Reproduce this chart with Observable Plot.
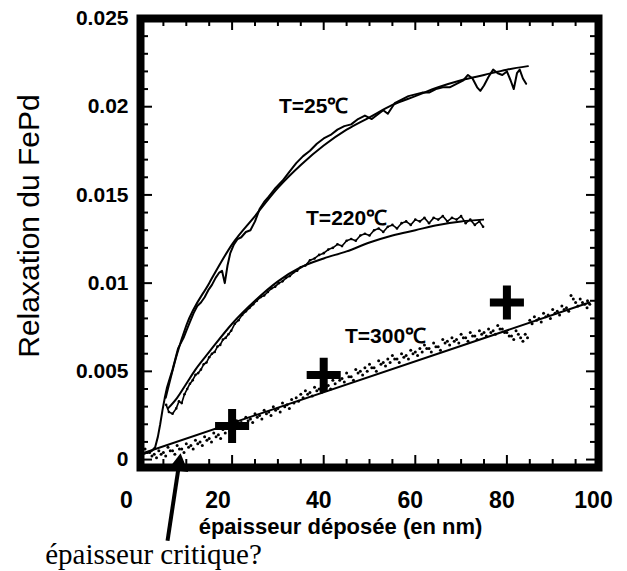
<!DOCTYPE html>
<html>
<head>
<meta charset="utf-8">
<script src="https://cdn.jsdelivr.net/npm/d3@7"></script>
<script src="https://cdn.jsdelivr.net/npm/@observablehq/plot@0.6"></script>
<style>
  html, body { margin: 0; padding: 0; background: #fff; }
</style>
</head>
<body>
<div id="chart"></div>
<script>
// ---------- data ----------
const xTicks = [0, 20, 40, 60, 80, 100];
const xTicksLeft = [0, 20];
const xTicksRight = [40, 60, 80, 100];
const xMinor = [5, 10, 15, 25, 30, 35, 45, 50, 55, 65, 70, 75, 85, 90, 95];
const yTicks = [0, 0.005, 0.01, 0.015, 0.02, 0.025];
const yMinor = [0.001, 0.002, 0.003, 0.004, 0.006, 0.007, 0.008, 0.009, 0.011, 0.012, 0.013, 0.014, 0.016, 0.017, 0.018, 0.019, 0.021, 0.022, 0.023, 0.024];

const xTitle = "épaisseur déposée (en nm)";
const yTitle = "Relaxation du FePd";
const noteText = "épaisseur critique?";

// T = 25 °C measurement (noisy trace)
const data25 = [
  [0.5,0.0003],[1.5,0.0004],[2.5,0.0005],[3.2,0.0007],[3.8,0.0013],[4.3,0.0020],[4.8,0.0028],
  [5.3,0.0035],[5.8,0.0041],[6.4,0.0046],[7.0,0.0051],[7.6,0.0057],[8.2,0.0063],[8.8,0.0066],
  [9.4,0.0069],[10.0,0.0073],[10.8,0.0078],[11.6,0.0083],[12.4,0.0087],[13.2,0.0089],[14.0,0.0092],
  [14.8,0.0096],[15.6,0.0099],[16.4,0.0103],[17.2,0.0106],[17.8,0.0107],[18.4,0.0100],[19.0,0.0110],
  [19.6,0.0117],[20.4,0.0122],[21.2,0.0125],[22.0,0.0126],[23.0,0.0129],[24.0,0.0130],[25.0,0.0135],
  [26.0,0.0142],[27.0,0.0146],[28.0,0.0149],[29.5,0.0154],[31.0,0.0158],[32.5,0.0163],[34.0,0.0168],
  [35.5,0.0172],[37.0,0.0175],[38.5,0.0179],[40.0,0.0182],[41.5,0.0184],[43.0,0.0187],[44.5,0.0189],
  [46.0,0.0190],[47.5,0.0193],[49.0,0.0195],[50.5,0.0193],[52.0,0.0196],[53.0,0.0198],[54.0,0.0196],
  [55.5,0.0202],[57.0,0.0204],[58.5,0.0206],[60.0,0.0207],[61.5,0.0208],[63.0,0.0208],[64.5,0.0210],
  [66.0,0.0211],[67.5,0.0211],[69.0,0.0213],[70.5,0.0215],[71.5,0.0218],[72.5,0.0216],[73.5,0.0211],
  [74.2,0.0209],[75.0,0.0212],[76.0,0.0217],[77.0,0.0221],[78.0,0.0219],[79.0,0.0218],[80.0,0.0220],
  [80.8,0.0215],[81.5,0.0210],[82.2,0.0219],[82.8,0.0221],[83.5,0.0216],[84.2,0.0213]
];
// T = 25 °C fitted curve
const fit25 = [
  [5.5,0.0035],[8,0.0060],[10,0.0076],[15,0.0100],[20,0.0122],[25,0.0138],[30,0.0154],[35,0.0167],
  [40,0.0178],[45,0.0187],[50,0.0194],[55,0.0201],[60,0.0206],[65,0.0211],[70,0.0215],[75,0.0218],
  [80,0.0221],[84.6,0.0223]
];

// T = 220 °C measurement
const data220 = [
  [5.6,0.0031],[6.2,0.0027],[7.0,0.0026],[7.8,0.0029],[8.4,0.0033],[9.0,0.0032],[9.6,0.0037],
  [10.2,0.0040],[10.8,0.0043],[11.4,0.0045],[12.0,0.0048],[12.6,0.0049],[13.2,0.0051],[13.8,0.0054],
  [14.4,0.0055],[15.0,0.0058],[15.6,0.0060],[16.2,0.0061],[16.8,0.0064],[17.4,0.0065],[18.0,0.0068],
  [18.6,0.0069],[19.2,0.0071],[19.8,0.0073],[20.6,0.0077],[21.4,0.0079],[22.2,0.0082],[23.0,0.0084],
  [23.8,0.0086],[24.6,0.0088],[25.4,0.0090],[26.2,0.0092],[27.0,0.0093],[27.8,0.0095],[28.6,0.0097],
  [29.4,0.0098],[30.2,0.0100],[31.0,0.0101],[31.8,0.0103],[32.6,0.0104],[33.4,0.0106],[34.2,0.0107],
  [35.0,0.0109],[36.0,0.0110],[37.0,0.0113],[38.0,0.0114],[39.0,0.0116],[40.0,0.0117],[41.0,0.0119],
  [42.0,0.0120],[43.0,0.0122],[44.0,0.0121],[45.0,0.0124],[46.0,0.0125],[47.0,0.0124],[48.0,0.0127],
  [49.0,0.0128],[50.0,0.0127],[51.0,0.0130],[52.0,0.0131],[53.0,0.0129],[54.0,0.0132],[55.0,0.0133],
  [56.0,0.0131],[57.0,0.0134],[58.0,0.0135],[59.0,0.0133],[60.0,0.0136],[61.0,0.0135],[62.0,0.0137],
  [63.0,0.0134],[64.0,0.0137],[65.0,0.0136],[66.0,0.0138],[67.0,0.0135],[68.0,0.0137],[69.0,0.0136],
  [70.0,0.0138],[71.0,0.0134],[72.0,0.0136],[73.0,0.0133],[74.0,0.0135],[74.8,0.0132]
];
// T = 220 °C fitted curve
const fit220 = [
  [6,0.0029],[8,0.0035],[10,0.0043],[12,0.0051],[15,0.0061],[20,0.0077],[25,0.0090],[30,0.0101],
  [35,0.0109],[40,0.0114],[45,0.0118],[50,0.0123],[55,0.0127],[60,0.0130],[65,0.0133],[70,0.0135],
  [74.8,0.0136]
];

// T = 300 °C measurement (scattered points)
const data300 = [
  [1.0,0.0004],[2.0,0.0002],[3.0,0.0001],[4.0,0.0003],[5.0,0.0002],[6.0,0.0005],[7.0,0.0003],
  [8.0,0.0006],[9.0,0.0004],[10.0,0.0007],[11.0,0.0006],[12.0,0.0009],[13.0,0.0008],[14.0,0.0011],
  [15.0,0.0010],[16.0,0.0013],[17.0,0.0012],[18.0,0.0015],[19.0,0.0016],[20.0,0.0018],[21.0,0.0020],
  [22.0,0.0019],[23.0,0.0022],[24.0,0.0021],[25.0,0.0024],[26.0,0.0023],[27.0,0.0026],[28.0,0.0025],
  [29.0,0.0028],[30.0,0.0027],[31.0,0.0030],[32.0,0.0029],[33.0,0.0032],[34.0,0.0033],[35.0,0.0035],
  [36.0,0.0037],[37.0,0.0036],[38.0,0.0039],[39.0,0.0038],[40.0,0.0041],[41.0,0.0040],[42.0,0.0043],
  [43.0,0.0045],[44.0,0.0044],[45.0,0.0047],[46.0,0.0045],[47.0,0.0049],[48.0,0.0048],[49.0,0.0050],
  [50.0,0.0052],[51.0,0.0050],[52.0,0.0054],[53.0,0.0053],[54.0,0.0055],[55.0,0.0057],[56.0,0.0055],
  [57.0,0.0058],[58.0,0.0057],[59.0,0.0060],[60.0,0.0059],[61.0,0.0061],[62.0,0.0063],[63.0,0.0061],
  [64.0,0.0064],[65.0,0.0062],[66.0,0.0066],[67.0,0.0065],[68.0,0.0067],[69.0,0.0066],[70.0,0.0069],
  [71.0,0.0067],[72.0,0.0070],[73.0,0.0068],[74.0,0.0071],[75.0,0.0070],[76.0,0.0072],[77.0,0.0071],
  [78.0,0.0074],[79.0,0.0072],[80.0,0.0070],[81.0,0.0068],[82.0,0.0071],[83.0,0.0067],[84.0,0.0069],
  [85.0,0.0077],[86.0,0.0079],[87.0,0.0078],[88.0,0.0081],[89.0,0.0080],[90.0,0.0083],[91.0,0.0082],
  [92.0,0.0085],[93.0,0.0084],[94.0,0.0091],[95.0,0.0087],[96.0,0.0089],[97.0,0.0086],[97.6,0.0088]
];
// T = 300 °C linear fit
const fit300 = [[1,0.0004],[98,0.0089]];

// big "+" markers
const crosses = [[20,0.0019],[40,0.0048],[80,0.0089]];

// curve labels
const curveLabels = [
  {x: 37.8, y: 0.0200, text: "T=25℃"},
  {x: 45.0, y: 0.0137, text: "T=220℃"},
  {x: 53.5, y: 0.0070, text: "T=300℃"}
];

// annotation arrow: tail (below the axis) -> tip (critical thickness)
const arrowTail = [5.9, -0.0046];
const arrowTip = [8.4, -0.0003];

// ---------- layout ----------
const W = 627, H = 571;
const mL = 140, mR = 29, mT = 18, mB = 104;
const pw = W - mL - mR, ph = H - mT - mB;
const majorLen = 12, minorLen = 8;
const sans = "'Liberation Sans', Arial, Helvetica, sans-serif";
const serif = "'Liberation Serif', 'Times New Roman', serif";

const chart = Plot.plot({
  width: W, height: H,
  marginLeft: mL, marginRight: mR, marginTop: mT, marginBottom: mB,
  style: {fontFamily: sans, background: "#fff", color: "#000"},
  x: {domain: [0, 100]},
  y: {domain: [-0.00045, 0.025]},
  marks: [
    // tick labels
    Plot.axisY({ticks: yTicks, tickSize: 0, tickPadding: 12, tickFormat: d => String(d),
      fontSize: 21, fontWeight: "bold", label: null}),
    Plot.axisX({ticks: xTicksLeft, tickSize: 0, tickPadding: 24, tickFormat: d => String(d),
      fontSize: 23, fontWeight: "bold", label: null, dx: -14}),
    Plot.axisX({ticks: xTicksRight, tickSize: 0, tickPadding: 24, tickFormat: d => String(d),
      fontSize: 23, fontWeight: "bold", label: null, dx: -5}),
    // inward ticks on all four sides
    Plot.tickY(yTicks, {y: d => d, insetRight: pw - majorLen, strokeWidth: 2}),
    Plot.tickY(yTicks, {y: d => d, insetLeft: pw - majorLen, strokeWidth: 2}),
    Plot.tickY(yMinor, {y: d => d, insetRight: pw - minorLen, strokeWidth: 2}),
    Plot.tickY(yMinor, {y: d => d, insetLeft: pw - minorLen, strokeWidth: 2}),
    Plot.tickX(xTicks, {x: d => d, insetTop: ph - majorLen, strokeWidth: 2}),
    Plot.tickX(xTicks, {x: d => d, insetBottom: ph - majorLen, strokeWidth: 2}),
    Plot.tickX(xMinor, {x: d => d, insetTop: ph - minorLen, strokeWidth: 2}),
    Plot.tickX(xMinor, {x: d => d, insetBottom: ph - minorLen, strokeWidth: 2}),
    // curves
    Plot.line(fit25, {x: d => d[0], y: d => d[1], stroke: "#000", strokeWidth: 2, curve: "monotone-x"}),
    Plot.line(data25, {x: d => d[0], y: d => d[1], stroke: "#000", strokeWidth: 2}),
    Plot.line(fit220, {x: d => d[0], y: d => d[1], stroke: "#000", strokeWidth: 2, curve: "monotone-x"}),
    Plot.line(data220, {x: d => d[0], y: d => d[1], stroke: "#000", strokeWidth: 1.6}),
    Plot.dot(data220, {x: d => d[0], y: d => d[1], r: 1.3, fill: "#000"}),
    Plot.line(fit300, {x: d => d[0], y: d => d[1], stroke: "#000", strokeWidth: 2}),
    Plot.dot(data300, {x: d => d[0], y: d => d[1] + 0.0002, r: 1.5, fill: "#000"}),
    Plot.dot(data300, {x: d => d[0] + 0.5, y: d => d[1], r: 1.5, fill: "#000"}),
    // crosses
    Plot.dot(crosses, {x: d => d[0], y: d => d[1], symbol: "plus", r: 11, stroke: "#000", strokeWidth: 8, strokeLinecap: "butt"}),
    // curve labels
    Plot.text(curveLabels, {x: "x", y: "y", text: "text", fontSize: 21, fontWeight: "bold", textAnchor: "middle"}),
    // frame
    Plot.frame({stroke: "#000", strokeWidth: 8}),
    // axis titles
    Plot.text([xTitle], {frameAnchor: "bottom", text: d => d, dy: 59, dx: -29, fontSize: 22, fontWeight: "bold", textAnchor: "middle", lineAnchor: "middle"}),
    Plot.text([yTitle], {frameAnchor: "left", text: d => d, dx: -111, dy: -17, rotate: -90, fontSize: 30, fontWeight: "normal", textAnchor: "middle", lineAnchor: "middle"}),
    // annotation
    Plot.link([[arrowTail, arrowTip]], {x1: d => d[0][0], y1: d => d[0][1], x2: d => d[1][0], y2: d => d[1][1], stroke: "#000", strokeWidth: 4}),
    Plot.dot([arrowTip], {x: d => d[0], y: d => d[1], symbol: "triangle", r: 7.5, fill: "#000", rotate: 8}),
    Plot.text([noteText], {frameAnchor: "bottom-left", text: d => d, dx: 13, dy: 87, fontSize: 29, fontFamily: serif, textAnchor: "middle", lineAnchor: "middle"})
  ]
});
document.getElementById("chart").appendChild(chart);
</script>
</body>
</html>
